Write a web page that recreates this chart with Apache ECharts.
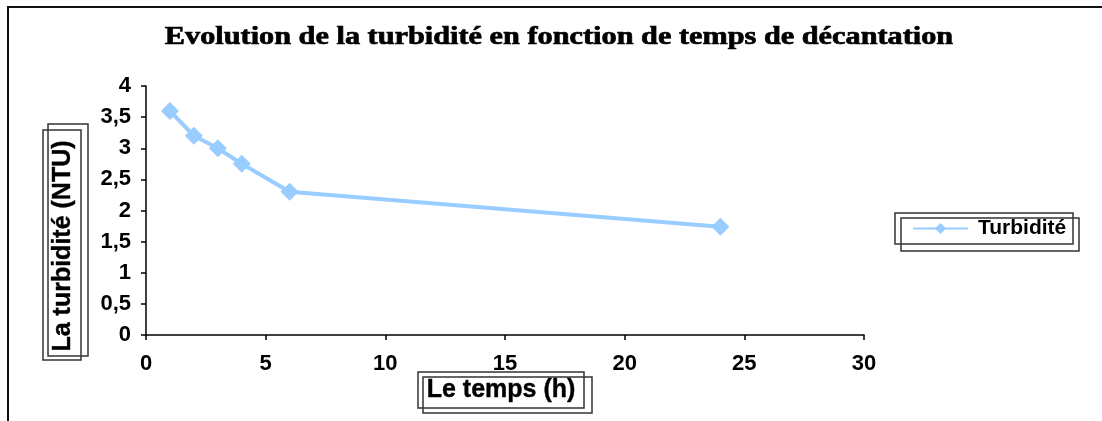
<!DOCTYPE html>
<html>
<head>
<meta charset="utf-8">
<script src="https://cdn.jsdelivr.net/npm/echarts@6/dist/echarts.min.js"></script>
<style>html,body{margin:0;padding:0;background:#fff;}#c{width:1102px;height:421px;}</style>
</head>
<body>
<div id="c"></div>
<script>
const titleText = 'Evolution de la turbidité en fonction de temps de décantation';
const xAxisTitle = 'Le temps (h)';
const yAxisTitle = 'La turbidité (NTU)';
const seriesName = 'Turbidité';
const timeHours = [1, 2, 3, 4, 6, 24];
const turbidity = [3.6, 3.2, 3.0, 2.75, 2.3, 1.74];

const chart = echarts.init(document.getElementById('c'));
const blue = '#99CCFF';
const boxStroke = '#333';
const fmt = v => String(v).replace('.', ',');

chart.setOption({
  animation: false,
  backgroundColor: '#fff',
  grid: { left: 146, right: 238, top: 86, bottom: 86, containLabel: false },
  xAxis: {
    type: 'value', min: 0, max: 30, interval: 5,
    axisLine: { show: true, lineStyle: { color: '#000', width: 1.5 } },
    axisTick: { show: true, length: 5, lineStyle: { color: '#000', width: 1.5 } },
    axisLabel: { formatter: fmt, color: '#000', fontFamily: 'Liberation Sans', fontWeight: 'bold', fontSize: 22, margin: 18 },
    splitLine: { show: false }
  },
  yAxis: {
    type: 'value', min: 0, max: 4, interval: 0.5,
    axisLine: { show: true, lineStyle: { color: '#000', width: 1.5 } },
    axisTick: { show: true, length: 5, lineStyle: { color: '#000', width: 1.5 } },
    axisLabel: { formatter: fmt, color: '#000', fontFamily: 'Liberation Sans', fontWeight: 'bold', fontSize: 22, margin: 15 },
    splitLine: { show: false }
  },
  legend: {
    left: 912, top: 218, padding: 0,
    itemWidth: 55, itemHeight: 14,
    textStyle: { color: '#000', fontFamily: 'Liberation Sans', fontWeight: 'bold', fontSize: 21, padding: [0, 0, 0, 5] },
    data: [seriesName]
  },
  series: [{
    name: seriesName,
    type: 'line',
    data: timeHours.map((t, i) => [t, turbidity[i]]),
    symbol: 'diamond',
    symbolSize: 18,
    lineStyle: { color: blue, width: 4 },
    itemStyle: { color: blue },
    emphasis: { disabled: true }
  }],
  graphic: [
    { type: 'polyline', shape: { points: [[8, 421], [8, 7], [1102, 7]] }, style: { stroke: '#111', lineWidth: 2, fill: null } },
    { type: 'text', x: 559, y: 37, scaleX: 1.165, style: { text: titleText, font: 'bold 26px "Liberation Serif"', fill: '#000', stroke: '#000', lineWidth: 0.7, textAlign: 'center', textVerticalAlign: 'middle' } },
    // y axis title with double box
    { type: 'rect', shape: { x: 43, y: 130, width: 38, height: 230 }, style: { stroke: boxStroke, lineWidth: 1.5, fill: null } },
    { type: 'rect', shape: { x: 48, y: 124, width: 40, height: 232 }, style: { stroke: boxStroke, lineWidth: 1.5, fill: null } },
    { type: 'text', x: 63, y: 246, rotation: Math.PI / 2, style: { text: yAxisTitle, font: 'bold 25px "Liberation Sans"', fill: '#000', stroke: '#000', lineWidth: 0.4, textAlign: 'center', textVerticalAlign: 'middle' } },
    // x axis title with double box
    { type: 'rect', shape: { x: 418, y: 372, width: 166, height: 36 }, style: { stroke: boxStroke, lineWidth: 1.5, fill: null } },
    { type: 'rect', shape: { x: 423, y: 377, width: 169, height: 36 }, style: { stroke: boxStroke, lineWidth: 1.5, fill: null } },
    { type: 'text', x: 501, y: 390, style: { text: xAxisTitle, font: 'bold 25px "Liberation Sans"', fill: '#000', stroke: '#000', lineWidth: 0.4, textAlign: 'center', textVerticalAlign: 'middle' } },
    // legend double box
    { type: 'rect', shape: { x: 895, y: 213, width: 178, height: 31 }, style: { stroke: boxStroke, lineWidth: 1.5, fill: null } },
    { type: 'rect', shape: { x: 901, y: 218, width: 178, height: 33 }, style: { stroke: boxStroke, lineWidth: 1.5, fill: null } }
  ]
});
</script>
</body>
</html>
